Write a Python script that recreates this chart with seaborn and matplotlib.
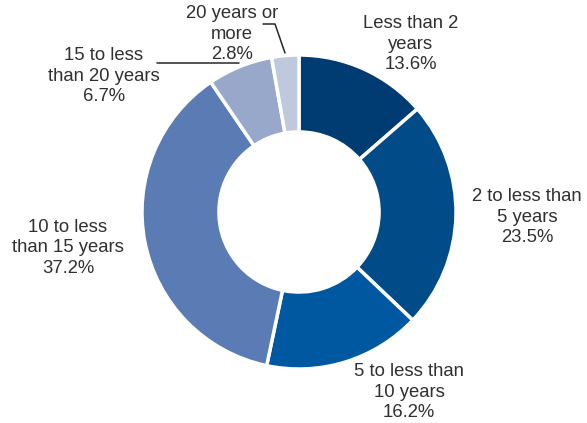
import matplotlib
matplotlib.use("Agg")
import matplotlib.pyplot as plt
import seaborn as sns

categories = [
    "Less than 2\nyears",
    "2 to less than\n5 years",
    "5 to less than\n10 years",
    "10 to less\nthan 15 years",
    "15 to less\nthan 20 years",
    "20 years or\nmore",
]
shares = [13.6, 23.5, 16.2, 37.2, 6.7, 2.8]
colors = ["#003C71", "#004B88", "#0058A0", "#5B7BB4", "#97A8CA", "#C0C8DD"]

# label anchor positions (pixel space, origin bottom-left)
label_xy = [(411, 379), (527, 206), (409, 31), (68, 175), (104, 347), (232, 389)]

sns.set_theme(style="white")
plt.rcParams["font.family"] = ["Liberation Sans", "DejaVu Sans"]

fig = plt.figure(figsize=(5.87, 4.23), dpi=100)
ax = fig.add_axes([0, 0, 1, 1])

ax.pie(
    shares,
    colors=colors,
    startangle=90,
    counterclock=False,
    center=(299, 211),
    radius=157,
    frame=True,
    wedgeprops=dict(width=157 * 0.49, edgecolor="white", linewidth=2.5),
)
ax.set_xlim(0, 587)
ax.set_ylim(0, 423)
ax.set_aspect("equal")
ax.axis("off")

for name, val, (x, y) in zip(categories, shares, label_xy):
    ax.text(x, y, f"{name}\n{val:.1f}%", ha="center", va="center",
            fontsize=13.3, color="#303030", linespacing=1.3)

# leader lines for the two small slices
ax.plot([157, 239], [360, 360], color="#262626", lw=1.1)
ax.plot([263, 275, 285], [399, 399, 370], color="#262626", lw=1.1)

fig.savefig("out.png", dpi=100)
